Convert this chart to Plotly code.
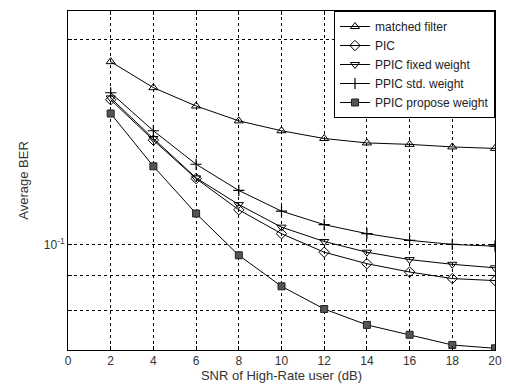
import math
import plotly.graph_objects as go

# SNR of the high-rate user (dB)
snr_db = [2, 4, 6, 8, 10, 12, 14, 16, 18, 20]

# Average BER of each receiver
ber_matched = [0.1854, 0.1698, 0.1596, 0.1518, 0.1468, 0.1430, 0.1409, 0.1402, 0.1390, 0.1383]
ber_pic = [0.1630, 0.1422, 0.1249, 0.1124, 0.1037, 0.0974, 0.0937, 0.0911, 0.0891, 0.0885]
ber_ppic_fixed = [0.1640, 0.1430, 0.1252, 0.1144, 0.1060, 0.1010, 0.0974, 0.0950, 0.0935, 0.0924]
ber_ppic_std = [0.1669, 0.1468, 0.1311, 0.1200, 0.1119, 0.1069, 0.1037, 0.1014, 0.1000, 0.0994]
ber_ppic_propose = [0.1556, 0.1302, 0.1110, 0.0964, 0.0868, 0.0804, 0.0762, 0.0737, 0.0712, 0.0704]

series_names = ["matched filter", "PIC", "PPIC fixed weight", "PPIC std. weight", "PPIC propose weight"]

x_ticks = list(range(0, 21, 2))
y_grid = [0.08, 0.09, 0.1, 0.2]
y_tick_text = ["", "", "10<sup>-1</sup>", ""]
y_limits = [0.07, 0.22]

font_family = "Liberation Sans, Arial, sans-serif"

styles = [
    dict(symbol="triangle-up-open", size=8, color="black"),
    dict(symbol="diamond-open", size=8, color="black"),
    dict(symbol="triangle-down-open", size=8, color="black"),
    dict(symbol="cross-thin-open", size=8, color="black", line=dict(width=1.2, color="black")),
    dict(symbol="square", size=7, color="#555555", line=dict(width=1, color="#222222")),
]

fig = go.Figure()
for name, ys, mk in zip(
    series_names,
    [ber_matched, ber_pic, ber_ppic_fixed, ber_ppic_std, ber_ppic_propose],
    styles,
):
    fig.add_trace(go.Scatter(
        x=snr_db, y=ys, name=name, mode="lines+markers",
        line=dict(color="black", width=1),
        marker=mk,
    ))

axis_common = dict(
    showline=True, linecolor="black", linewidth=1, mirror="ticks",
    ticks="inside", ticklen=4, tickcolor="black",
    showgrid=True, gridcolor="black", gridwidth=1, griddash="dot",
    zeroline=False, automargin=False,
    tickfont=dict(family=font_family, size=12, color="#333333"),
)

fig.update_xaxes(
    range=[0, 20], tickvals=x_ticks,
    title=dict(text="SNR of High-Rate user (dB)", standoff=2,
               font=dict(family=font_family, size=13, color="#333333")),
    **axis_common,
)
fig.update_yaxes(
    type="log", range=[math.log10(y_limits[0]), math.log10(y_limits[1])],
    tickvals=y_grid, ticktext=y_tick_text,
    title=dict(text="Average BER", standoff=12,
               font=dict(family=font_family, size=13, color="#333333")),
    **axis_common,
)

fig.update_layout(
    width=506, height=389,
    margin=dict(l=68, r=11, t=11, b=39),
    paper_bgcolor="white", plot_bgcolor="white",
    showlegend=True,
    legend=dict(
        x=1, y=1, xanchor="right", yanchor="top",
        bgcolor="white", bordercolor="black", borderwidth=1,
        font=dict(family=font_family, size=12, color="#222222"),
        tracegroupgap=0, itemwidth=30,
    ),
)

fig.write_html("out.html")
